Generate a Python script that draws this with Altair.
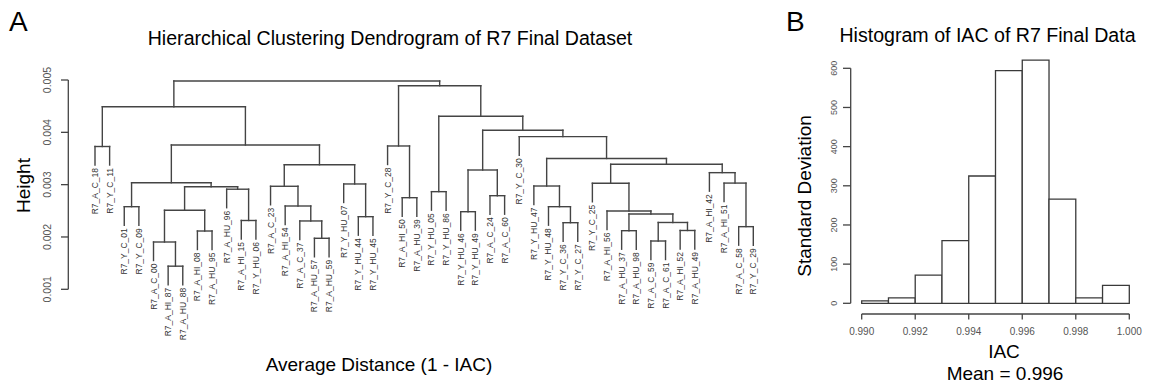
import altair as alt
import pandas as pd

# ---------------- data ----------------
leaf_labels = [
    "R7_A_C_18", "R7_Y_C_11", "R7_Y_C_01", "R7_Y_C_09", "R7_A_C_00", "R7_A_HI_87",
    "R7_A_HU_88", "R7_A_HI_08", "R7_A_HU_95", "R7_A_HU_96", "R7_A_HI_15", "R7_Y_HU_06",
    "R7_A_C_23", "R7_A_HI_54", "R7_A_C_37", "R7_A_HU_57", "R7_A_HU_59", "R7_Y_HU_07",
    "R7_Y_HU_44", "R7_Y_HU_45", "R7_Y_C_28", "R7_A_HI_50", "R7_A_HU_39", "R7_Y_HU_05",
    "R7_Y_HU_86", "R7_Y_HU_46", "R7_Y_HU_49", "R7_A_C_24", "R7_A_C_60", "R7_Y_C_30",
    "R7_Y_HU_47", "R7_Y_HU_48", "R7_Y_C_36", "R7_Y_C_27", "R7_Y_C_25", "R7_A_HI_56",
    "R7_A_HU_37", "R7_A_HU_98", "R7_A_C_59", "R7_A_C_61", "R7_A_HI_52", "R7_A_HU_49",
    "R7_A_HI_42", "R7_A_HI_51", "R7_A_C_58", "R7_Y_C_29",
]

# R-style merge table: negative = leaf (1-based position), positive = earlier merge
merge_a = [-6, -5, -8, 2, -11, -10, 4, -3, 8, -16, -15, -14, -13, -19, -18, 13, 9, -1, 18,
           -22, -21, -24, -26, -28, 23, -33, -32, -31, -37, -39, -41, 30, 29, -36, -35,
           -45, -44, -43, 35, 28, -30, 25, 22, 21, 19]
merge_b = [-7, 1, -9, 3, -12, 5, 6, -4, 7, -17, 10, 11, 12, -20, 14, 15, 16, -2, 17,
           -23, 20, -25, -27, -29, 24, -34, 26, 27, -38, -40, -42, 31, 32, 33, 34,
           -46, 36, 37, 38, 39, 40, 41, 42, 43, 44]
merge_h = [0.001442, 0.001904, 0.002114, 0.002510, 0.002315, 0.002913, 0.002959, 0.002579,
           0.003037, 0.001975, 0.002306, 0.002592, 0.002969, 0.002388, 0.003013, 0.003381,
           0.003758, 0.003729, 0.004490, 0.002751, 0.003739, 0.002866, 0.002483, 0.002789,
           0.003280, 0.002273, 0.002579, 0.002974, 0.002120, 0.001923, 0.002124, 0.002277,
           0.002439, 0.002497, 0.003026, 0.002197, 0.003030, 0.003229, 0.003389, 0.003500,
           0.003917, 0.004039, 0.004308, 0.004891, 0.004981]
dend_ticks = [0.001, 0.002, 0.003, 0.004, 0.005]

hist_bin_start = [0.990, 0.991, 0.992, 0.993, 0.994, 0.995, 0.996, 0.997, 0.998, 0.999]
hist_counts = [6, 14, 72, 160, 325, 594, 621, 266, 14, 46]
hist_bin_width = 0.001
hist_x_ticks = [0.990, 0.992, 0.994, 0.996, 0.998, 1.000]
hist_y_ticks = [0, 100, 200, 300, 400, 500, 600]

# ---------------- dendrogram geometry (R plot.hclust style) ----------------
hang = 0.1 * (max(merge_h) - min(merge_h))
merge_x = []
segs = []
leaf_end = {}
for a, b, h in zip(merge_a, merge_b, merge_h):
    xs = []
    for ref in (a, b):
        if ref < 0:
            xr = -ref
            lo = h - hang
            leaf_end[xr] = lo
        else:
            xr = merge_x[ref - 1]
            lo = merge_h[ref - 1]
        segs.append({"x": xr, "x2": xr, "y": h, "y2": lo})
        xs.append(xr)
    segs.append({"x": xs[0], "x2": xs[1], "y": h, "y2": h})
    merge_x.append((xs[0] + xs[1]) / 2)

seg_df = pd.DataFrame(segs)
leaf_df = pd.DataFrame({
    "x": list(range(1, len(leaf_labels) + 1)),
    "y": [leaf_end[i] for i in range(1, len(leaf_labels) + 1)],
    "label": leaf_labels,
})
dtick_df = pd.DataFrame({"v": dend_ticks, "lab": [f"{v:.3f}" for v in dend_ticks]})
daxis_df = pd.DataFrame({"lo": [min(dend_ticks)], "hi": [max(dend_ticks)]})

hist_df = pd.DataFrame({
    "start": hist_bin_start,
    "end": [s + hist_bin_width for s in hist_bin_start],
    "count": hist_counts,
    "base": [0] * len(hist_counts),
})
hxt_df = pd.DataFrame({"v": hist_x_ticks, "lab": [f"{v:.3f}" for v in hist_x_ticks]})
hyt_df = pd.DataFrame({"v": hist_y_ticks, "lab": [str(v) for v in hist_y_ticks]})
hxa_df = pd.DataFrame({"lo": [min(hist_x_ticks)], "hi": [max(hist_x_ticks)]})
hya_df = pd.DataFrame({"lo": [min(hist_y_ticks)], "hi": [max(hist_y_ticks)]})

# ---------------- scales ----------------
FONT = "Liberation Sans"
LINE = "#444444"
dxs = alt.Scale(domain=[1, len(leaf_labels)], range=[95, 753.3], nice=False, zero=False)
dys = alt.Scale(domain=[0.001, 0.005], range=[289.3, 80], nice=False, zero=False)
hxs = alt.Scale(domain=[0.990, 1.000], range=[861.7, 1129.3], nice=False, zero=False)
hys = alt.Scale(domain=[0, 600], range=[303.3, 68.3], nice=False, zero=False)

one = pd.DataFrame({"k": [0]})

layers = []

# dendrogram segments
layers.append(alt.Chart(seg_df).mark_rule(color=LINE, strokeWidth=1.4, strokeCap="square").encode(
    x=alt.X("x:Q", scale=dxs, axis=None), x2="x2:Q",
    y=alt.Y("y:Q", scale=dys, axis=None), y2="y2:Q"))
# leaf labels
layers.append(alt.Chart(leaf_df).mark_text(angle=270, align="right", baseline="middle", dx=-3,
                                           fontSize=8.5, font=FONT, color="#333").encode(
    x=alt.X("x:Q", scale=dxs, axis=None), y=alt.Y("y:Q", scale=dys, axis=None), text="label:N"))
# dendrogram y axis
layers.append(alt.Chart(daxis_df).mark_rule(color=LINE, strokeWidth=1.3).encode(
    x=alt.value(68.3), y=alt.Y("lo:Q", scale=dys, axis=None), y2="hi:Q"))
layers.append(alt.Chart(dtick_df).mark_rule(color=LINE, strokeWidth=1.3).encode(
    x=alt.value(61), x2=alt.value(68.3), y=alt.Y("v:Q", scale=dys, axis=None)))
layers.append(alt.Chart(dtick_df).mark_text(angle=270, align="center", baseline="middle",
                                            fontSize=10.5, font=FONT, color="#555").encode(
    x=alt.value(48), y=alt.Y("v:Q", scale=dys, axis=None), text="lab:N"))

# histogram bars
layers.append(alt.Chart(hist_df).mark_rect(fill="white", stroke="#3a3a3a", strokeWidth=1.3).encode(
    x=alt.X("start:Q", scale=hxs, axis=None), x2="end:Q",
    y=alt.Y("count:Q", scale=hys, axis=None), y2="base:Q"))
# histogram axes
layers.append(alt.Chart(hya_df).mark_rule(color=LINE, strokeWidth=1.3).encode(
    x=alt.value(850.7), y=alt.Y("lo:Q", scale=hys, axis=None), y2="hi:Q"))
layers.append(alt.Chart(hyt_df).mark_rule(color=LINE, strokeWidth=1.3).encode(
    x=alt.value(843), x2=alt.value(850.7), y=alt.Y("v:Q", scale=hys, axis=None)))
layers.append(alt.Chart(hyt_df).mark_text(angle=270, align="center", baseline="middle",
                                          fontSize=9, font=FONT, color="#555").encode(
    x=alt.value(833.5), y=alt.Y("v:Q", scale=hys, axis=None), text="lab:N"))
layers.append(alt.Chart(hxa_df).mark_rule(color=LINE, strokeWidth=1.3).encode(
    y=alt.value(314), x=alt.X("lo:Q", scale=hxs, axis=None), x2="hi:Q"))
layers.append(alt.Chart(hxt_df).mark_rule(color=LINE, strokeWidth=1.3).encode(
    y=alt.value(314), y2=alt.value(319.5), x=alt.X("v:Q", scale=hxs, axis=None)))
layers.append(alt.Chart(hxt_df).mark_text(align="center", baseline="middle",
                                          fontSize=10, font=FONT, color="#555").encode(
    y=alt.value(331.7), x=alt.X("v:Q", scale=hxs, axis=None), text="lab:N"))


def label(txt, x, y, size=19, angle=0, align="center", baseline="alphabetic"):
    kw = dict(align=align, baseline=baseline, fontSize=size, font=FONT, color="black")
    if angle:
        kw["angle"] = angle
    return alt.Chart(one).mark_text(**kw).encode(
        x=alt.value(x), y=alt.value(y), text=alt.value(txt))


layers += [
    label("A", 9, 31, size=28, align="left"),
    label("B", 786, 31, size=28, align="left"),
    label("Hierarchical Clustering Dendrogram of R7 Final Dataset", 390, 45, size=19.6),
    label("Height", 24, 185.5, angle=270, baseline="middle"),
    label("Average Distance (1 - IAC)", 379, 371),
    label("Histogram of IAC of R7 Final Data", 987.5, 41.5, size=19.6),
    label("Standard Deviation", 805, 196, angle=270, baseline="middle"),
    label("IAC", 1004, 358),
    label("Mean = 0.996", 1005, 380),
]

chart = alt.layer(*layers).resolve_scale(x="independent", y="independent").properties(
    width=1150, height=385, padding=0,
    autosize=alt.AutoSizeParams(type="none"),
    background="white",
).configure_view(strokeWidth=0)

chart.save("out.html", embed_options={"renderer": "svg", "actions": False})
